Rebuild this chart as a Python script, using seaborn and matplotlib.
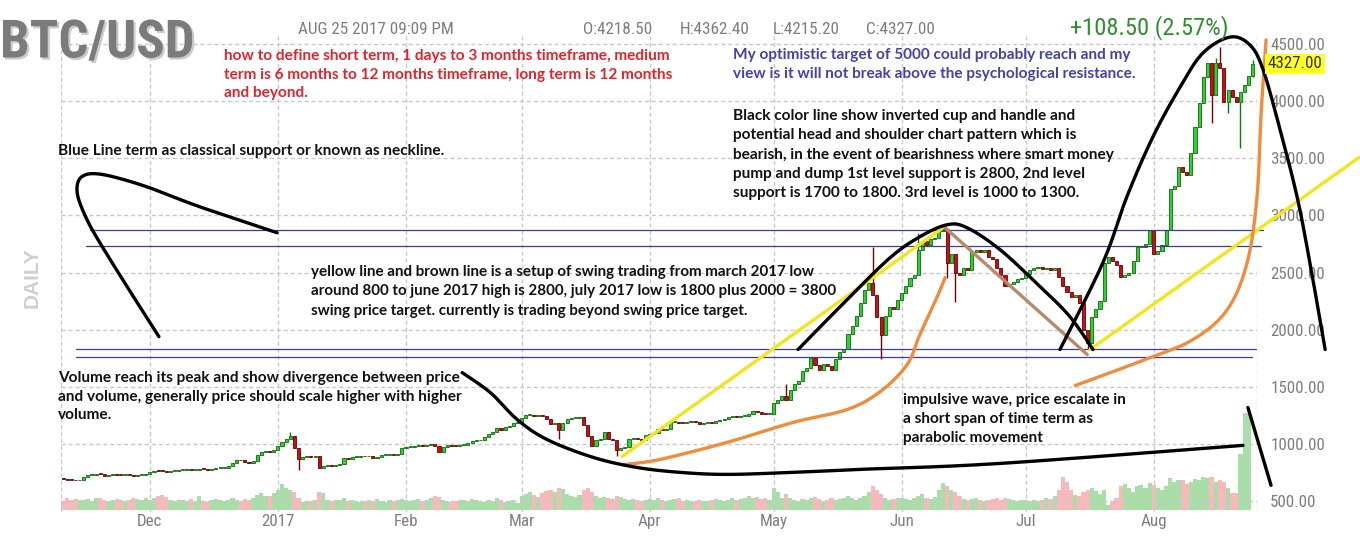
import numpy as np
import pandas as pd
import matplotlib
matplotlib.use("Agg")
import matplotlib.pyplot as plt
import matplotlib.patheffects as pe
from matplotlib import font_manager as fm
import seaborn as sns

# ---------------- DATA ----------------
START, END = "2016-11-10", "2017-08-25"
close_nov = [690, 688, 684, 680, 686, 712, 728, 730, 735, 734, 722, 730, 736, 732, 728, 731, 725, 722, 728, 729, 736]
close_dec = [752, 765, 762, 760, 755, 760, 765, 770, 772, 775, 770, 775, 780, 778, 775, 780, 788, 790, 792, 805, 835,
             862, 855, 838, 830, 850, 905, 930, 935, 925, 945]
close_jan = [985, 1020, 1040, 1070, 960, 870, 885, 895, 885, 895, 785, 805, 815, 810, 815, 825, 880, 870, 885, 885, 895,
             890, 895, 875, 885, 905, 905, 905, 900, 915, 960]
close_feb = [970, 975, 985, 990, 985, 990, 995, 985, 930, 975, 990, 985, 980, 990, 990, 1005, 1025, 1030, 1035, 1060,
             1085, 1100, 1135, 1120, 1150, 1160, 1180, 1190]
close_mar = [1225, 1250, 1255, 1245, 1250, 1245, 1215, 1175, 1185, 1120, 1180, 1215, 1225, 1230, 1235, 1165, 1070, 980,
             1030, 1040, 1100, 1040, 1035, 950, 960, 975, 1040, 1045, 1040, 1035, 1075]
close_apr = [1085, 1095, 1130, 1125, 1130, 1190, 1195, 1185, 1180, 1190, 1200, 1195, 1175, 1180, 1185, 1180, 1200, 1205,
             1215, 1235, 1240, 1235, 1245, 1245, 1265, 1290, 1275, 1265, 1260, 1265]
close_may = [1360, 1385, 1420, 1380, 1470, 1520, 1550, 1640, 1660, 1750, 1690, 1650, 1700, 1680, 1650, 1740, 1800, 1830,
             1960, 2030, 2120, 2230, 2350, 2410, 2300, 2110, 1950, 2120, 2200, 2180, 2260]
close_jun = [2320, 2380, 2450, 2480, 2700, 2780, 2740, 2790, 2800, 2860, 2880, 2580, 2660, 2500, 2480, 2540, 2520, 2680,
             2700, 2680, 2700, 2640, 2620, 2540, 2480, 2380, 2400, 2420, 2440, 2450]
close_jul = [2490, 2520, 2540, 2550, 2530, 2540, 2520, 2540, 2460, 2380, 2330, 2290, 2300, 2230, 2000, 1880, 2110, 2180,
             2250, 2580, 2640, 2600, 2570, 2460, 2480, 2500, 2600, 2720, 2720, 2750, 2870]
close_aug = [2660, 2690, 2740, 2870, 3230, 3260, 3420, 3380, 3350, 3550, 3770, 3980, 4210, 4330, 4050, 4330, 4290, 3990,
             4100, 4040, 3990, 4080, 4140, 4218.5, 4327]
first_open = 695

wick_high = {"2017-01-04": 1100, "2017-05-04": 1520, "2017-05-25": 2725, "2017-06-05": 2850, "2017-06-11": 2920,
             "2017-08-16": 4380, "2017-08-17": 4475, "2017-08-25": 4362.4}
wick_low = {"2017-01-06": 770, "2017-03-10": 1040, "2017-03-24": 890, "2017-05-27": 1740, "2017-06-12": 2450,
            "2017-06-14": 2240, "2017-07-16": 1830, "2017-08-15": 3806, "2017-08-19": 3894, "2017-08-22": 3588,
            "2017-08-25": 4215.2}

vol_nov = [8, 12, 10, 11, 10, 10, 11, 9, 12, 12, 10, 9, 10, 11, 10, 9, 10, 12, 11, 10, 12]
vol_dec = [10, 12, 14, 15, 13, 10, 9, 10, 10, 9, 11, 8, 14, 9, 8, 10, 11, 10, 9, 10, 12, 10, 9, 11, 10, 12, 15, 17, 14, 14, 17]
vol_jan = [20, 26, 22, 20, 18, 12, 8, 8, 9, 10, 18, 17, 10, 9, 10, 10, 12, 9, 10, 9, 8, 9, 10, 9, 11, 9, 8, 10, 9, 10, 11]
vol_feb = [10, 9, 10, 11, 9, 10, 12, 14, 13, 10, 9, 8, 9, 10, 10, 9, 11, 10, 9, 8, 10, 9, 12, 10, 8, 9, 10, 7]
vol_mar = [14, 16, 18, 15, 13, 17, 19, 20, 18, 22, 21, 16, 14, 13, 15, 20, 22, 18, 14, 12, 13, 12, 11, 14, 13, 11, 10, 11, 10, 9, 10]
vol_apr = [11, 10, 12, 10, 9, 10, 11, 12, 9, 10, 9, 8, 10, 9, 9, 10, 11, 10, 9, 10, 12, 10, 11, 12, 14, 12, 13, 11, 12, 10]
vol_may = [22, 18, 12, 16, 12, 10, 9, 11, 10, 12, 13, 11, 9, 10, 12, 10, 11, 12, 14, 12, 10, 12, 14, 18, 24, 20, 16, 12, 10, 11, 12]
vol_jun = [12, 11, 10, 12, 14, 16, 12, 11, 13, 20, 27, 24, 20, 18, 14, 11, 10, 11, 12, 10, 9, 10, 11, 12, 10, 12, 11, 10, 9, 10]
vol_jul = [10, 9, 10, 9, 10, 12, 11, 14, 20, 33, 28, 20, 15, 14, 18, 20, 22, 19, 16, 20, 5, 8, 12, 24, 26, 22, 18, 24, 25, 22, 27]
vol_aug = [25, 22, 20, 24, 32, 28, 30, 30, 26, 28, 31, 30, 33, 32, 33, 28, 30, 28, 22, 17, 17, 56, 97, 97, 0]

month_starts = ["2016-12-01", "2017-01-01", "2017-02-01", "2017-03-01", "2017-04-01", "2017-05-01",
                "2017-06-01", "2017-07-01", "2017-08-01"]
month_labels = ["Dec", "2017", "Feb", "Mar", "Apr", "May", "Jun", "Jul", "Aug"]
price_ticks = [500, 1000, 1500, 2000, 2500, 3000, 3500, 4000, 4500]
last_price = 4327.00

# ---------------- FRAME ----------------
dates = pd.date_range(START, END, freq="D")
closes = close_nov + close_dec + close_jan + close_feb + close_mar + close_apr + close_may + close_jun + close_jul + close_aug
vols = vol_nov + vol_dec + vol_jan + vol_feb + vol_mar + vol_apr + vol_may + vol_jun + vol_jul + vol_aug
assert len(closes) == len(dates) == len(vols)
df = pd.DataFrame({"date": dates, "close": closes, "volume": vols})
df["open"] = [first_open] + closes[:-1]
df["high"] = df[["open", "close"]].max(axis=1)
df["low"] = df[["open", "close"]].min(axis=1)
for d, v in wick_high.items():
    df.loc[df.date == pd.Timestamp(d), "high"] = v
for d, v in wick_low.items():
    df.loc[df.date == pd.Timestamp(d), "low"] = v
df["day"] = (df.date - pd.Timestamp(START)).dt.days
df["dir"] = np.where(df.close >= df.open, "up", "down")

# ---------------- STYLE ----------------
sns.set_theme(style="white")
entries = {(f.name, str(f.stretch)) for f in fm.fontManager.ttflist}
names = {n for n, _ in entries}
narrow_prefs = [("Liberation Sans Narrow", "normal"), ("Arial Narrow", "normal"), ("Roboto Condensed", "normal"),
                ("Noto Sans", "condensed"), ("Noto Sans Condensed", "normal"), ("Open Sans", "condensed"),
                ("Open Sans Condensed", "normal"), ("Roboto", "condensed"), ("Liberation Sans", "normal")]
NARROW, STRETCH = "Liberation Sans", "normal"
for n, s in narrow_prefs:
    if n in names and (s == "normal" or (n, s) in entries):
        NARROW, STRETCH = n, s
        break
ANNOT = "Lato" if "Lato" in names else "DejaVu Sans"
plt.rcParams["font.family"] = [NARROW, "DejaVu Sans"]

W, H = 1360, 544
fig = plt.figure(figsize=(W / 100, H / 100), dpi=100)
fig.patch.set_facecolor("white")

# scale narrow text so that "4500.00" at 12.7pt is ~53 px wide, as in the reference
_r = fig.canvas.get_renderer()
_t = fig.text(0, 0, "4500.00", fontsize=12.7, family=NARROW, fontstretch=STRETCH)
NS = min(1.0, 53.0 / _t.get_window_extent(_r).width)
_t.remove()

L, R, T, B = 61, 1257, 36, 512
ax = fig.add_axes([L / W, 1 - B / H, (R - L) / W, (B - T) / H])
axv = ax.twinx()
ax.set_zorder(axv.get_zorder() + 1)
ax.patch.set_visible(False)

# volume (background)
sns.histplot(data=df, x="day", weights="volume", hue="dir", discrete=True, shrink=1.0,
             palette={"up": "#a9dea9", "down": "#f8b9bc"}, alpha=1, linewidth=0,
             legend=False, multiple="layer", element="bars", ax=axv)
axv.set_ylim(-2, 474)
axv.set_yticks([]); axv.set_ylabel("")
for s in axv.spines.values():
    s.set_visible(False)

# candles
up = df.dir == "up"
ax.vlines(df.day[up], df.low[up], df.high[up], color="#0b7a0b", lw=1, zorder=3)
ax.vlines(df.day[~up], df.low[~up], df.high[~up], color="#7a0000", lw=1, zorder=3)
body = (df.close - df.open).abs().clip(lower=8)
bottom = df[["open", "close"]].min(axis=1)
ax.bar(df.day[up], body[up], bottom=bottom[up], width=0.75, color="#30d030",
       edgecolor="#0b6e0b", linewidth=0.6, zorder=4)
ax.bar(df.day[~up], body[~up], bottom=bottom[~up], width=0.75, color="#c81010",
       edgecolor="#6e0000", linewidth=0.6, zorder=4)

ax.set_xlim(-0.5, len(df))
ax.set_ylim(404, 4570)
tick_pos = [(pd.Timestamp(m) - pd.Timestamp(START)).days for m in month_starts]
ax.set_xticks(tick_pos)
ax.set_xticklabels(month_labels)
ax.set_yticks(price_ticks)
ax.set_yticklabels([f"{p:.2f}" for p in price_ticks])
ax.yaxis.tick_right()
ax.set_xlabel(""); ax.set_ylabel("")
ax.tick_params(axis="both", length=0, labelcolor="#7e7e7e", labelsize=13.2 * NS)
ax.tick_params(axis="y", pad=9.5)
ax.tick_params(axis="x", pad=1.5)
for lab in ax.get_xticklabels() + ax.get_yticklabels():
    lab.set_fontfamily(NARROW); lab.set_fontstretch(STRETCH)
ax.grid(True, color="#c9c9c9", ls=(0, (3, 2)), lw=1)
ax.set_axisbelow(True)
for s in ax.spines.values():
    s.set_visible(False)
ax.axvline(-0.5, color="#c9c9c9", ls=(0, (3, 2)), lw=1, zorder=0)
ax.axvline(len(df), color="#c9c9c9", ls=(0, (3, 2)), lw=1, zorder=0)

# last price tag
ax.text(1.009, last_price, f"{last_price:.2f}", transform=ax.get_yaxis_transform(),
        va="center", ha="left", fontsize=13.2 * NS, color="#333333", family=NARROW, fontstretch=STRETCH,
        bbox=dict(boxstyle="square,pad=0.15", fc="#ffff22", ec="none"), zorder=10)

# ---------------- ANNOTATION DRAWINGS (day offset, price) ----------------
def smooth(pts, n=14):
    P = np.asarray(pts, float)
    P = np.vstack([P[0], P, P[-1]])
    out = []
    t = np.linspace(0, 1, n, endpoint=False)[:, None]
    for i in range(1, len(P) - 2):
        p0, p1, p2, p3 = P[i - 1], P[i], P[i + 1], P[i + 2]
        out.append(0.5 * (2 * p1 + (-p0 + p2) * t + (2 * p0 - 5 * p1 + 4 * p2 - p3) * t ** 2
                          + (-p0 + 3 * p1 - 3 * p2 + p3) * t ** 3))
    out.append(P[-2][None])
    return np.vstack(out)

def stroke(pts, color, lw, z=8, sm=True):
    a = smooth(pts) if sm else np.asarray(pts, float)
    ax.plot(a[:, 0], a[:, 1], color=color, lw=lw, clip_on=False, zorder=z, solid_capstyle="round")

hook = [(51.8, 2848), (33.1, 3075), (21.0, 3241), (13.1, 3329), (8.2, 3364), (5.2, 3352), (3.6, 3290),
        (3.6, 3163), (5.8, 2962), (8.9, 2761), (15.5, 2376), (23.2, 1939)]
cup_bottom = [(96.6, 1624), (103.4, 1450), (109.9, 1214), (117.1, 1039), (128.3, 882), (138.9, 794),
              (149.3, 751), (160.7, 733), (176.7, 751), (192.9, 777), (226.8, 829), (285.6, 987)]
right_tick = [(286.8, 1319), (292.4, 637)]
june_cap = [(177.9, 1826), (189.8, 2263), (200.2, 2630), (207.4, 2813), (214.0, 2918), (218.8, 2892),
            (226.8, 2700), (236.5, 2376), (243.7, 2114), (249.3, 1826)]
aug_cap = [(241.3, 1826), (251.7, 2586), (257.5, 3163), (263.8, 3687), (270.4, 4124), (275.9, 4421),
           (282.5, 4561), (287.3, 4491), (290.5, 4273), (294.6, 3748), (298.7, 3163), (301.8, 2586), (305.5, 1826)]
yellow1 = [(135.3, 890), (213.0, 2892)]
yellow2 = [(248.6, 1826), (313.9, 3512)]
brown = [(213.5, 2892), (247.9, 1782)]
orange1 = [(136.0, 820), (144.5, 864), (160.7, 1013), (176.7, 1188), (189.8, 1301), (197.8, 1458),
           (204.3, 1694), (207.4, 1957), (211.6, 2289), (213.5, 2455)]
orange2 = [(245.0, 1511), (261.9, 1738), (273.5, 1913), (281.8, 2175), (286.6, 2586), (289.0, 3163),
           (290.0, 3897), (291.2, 4535)]
necklines = [(6.5, 290.5, 2874), (5.5, 290.0, 2735), (3.1, 288.8, 1834), (3.1, 287.8, 1764)]

for x0, x1, p in necklines:
    ax.plot([x0, x1], [p, p], color="#3b3b98", lw=0.9, clip_on=False, zorder=6)
stroke(yellow1, "#f3e51c", 2.4, sm=False)
stroke(yellow2, "#f3e51c", 2.4, sm=False)
stroke(brown, "#b88a6c", 2.4, sm=False)
stroke(orange1, "#f08c3e", 2.4)
stroke(orange2, "#f08c3e", 2.4)
stroke(hook, "black", 2.4)
stroke(cup_bottom, "black", 2.4)
stroke(right_tick, "black", 2.4, sm=False)
stroke(june_cap, "black", 2.4)
stroke(aug_cap, "black", 2.4)

# ---------------- TEXT ----------------
def px(x, y):
    return x / W, 1 - y / H

def block(x, y0, dy, lines, color, size=11.1):
    for i, s in enumerate(lines):
        fig.text(*px(x, y0 + i * dy), s, color=color, fontsize=size, family=ANNOT,
                 weight="bold", va="center", ha="left", zorder=20)

block(224, 56, 18.6, ["how to define short term, 1 days to 3 months timeframe, medium",
                      "term is 6 months to 12 months timeframe, long term is 12 months",
                      "and beyond."], "#e2242b")
block(733, 55, 18.6, ["My optimistic target of 5000 could probably reach and my",
                      "view is it will not break above the psychological resistance."], "#4242ad")
block(733, 116, 19.3, ["Black color line show inverted cup and handle and",
                       "potential head and shoulder chart pattern which is",
                       "bearish, in the event of bearishness where smart money",
                       "pump and dump 1st level support is 2800, 2nd level",
                       "support is 1700 to 1800. 3rd level is 1000 to 1300."], "#111111")
block(58, 151, 19, ["Blue Line term as classical support or known as neckline."], "#111111")
block(311, 272, 19.5, ["yellow line and brown line is a setup of swing trading from march 2017 low",
                       "around 800 to june 2017 high is 2800, july 2017 low is 1800 plus 2000 = 3800",
                       "swing price target. currently is trading beyond swing price target."], "#111111",
      size=10.9)
block(58, 378, 18.6, ["Volume reach its peak and show divergence between price",
                      "and volume, generally price should scale higher with higher",
                      "volume."], "#111111")
block(903, 400, 19, ["impulsive wave, price escalate in",
                     "a short span of time term as",
                     "parabolic movement"], "#111111")

# header
fig.text(*px(0, 43), "BTC/USD", fontsize=41 * NS, weight="bold", color="#7b7b7b", family=NARROW,
         fontstretch=STRETCH, va="center", ha="left",
         path_effects=[pe.withSimplePatchShadow(offset=(1.5, -1.5), shadow_rgbFace="#bdbdbd", alpha=0.8)])
hdr = dict(fontsize=13.3 * NS, color="#7d7d7d", family=NARROW, fontstretch=STRETCH, va="center", ha="left")
fig.text(*px(298, 30), "AUG 25 2017 09:09 PM", **hdr)
fig.text(*px(583, 30), "O:4218.50", **hdr)
fig.text(*px(680, 30), "H:4362.40", **hdr)
fig.text(*px(773, 30), "L:4215.20", **hdr)
fig.text(*px(866, 30), "C:4327.00", **hdr)
fig.text(*px(1070, 28), "+108.50 (2.57%)", fontsize=19 * NS, color="#2f8f2f", family=NARROW,
         fontstretch=STRETCH, va="center", ha="left")
fig.text(*px(32, 278), "DAILY", rotation=90, fontsize=15, weight="bold", color="#cfcfcf",
         family="Liberation Sans", va="center", ha="center")

fig.savefig("out.png", dpi=100, facecolor="white")
